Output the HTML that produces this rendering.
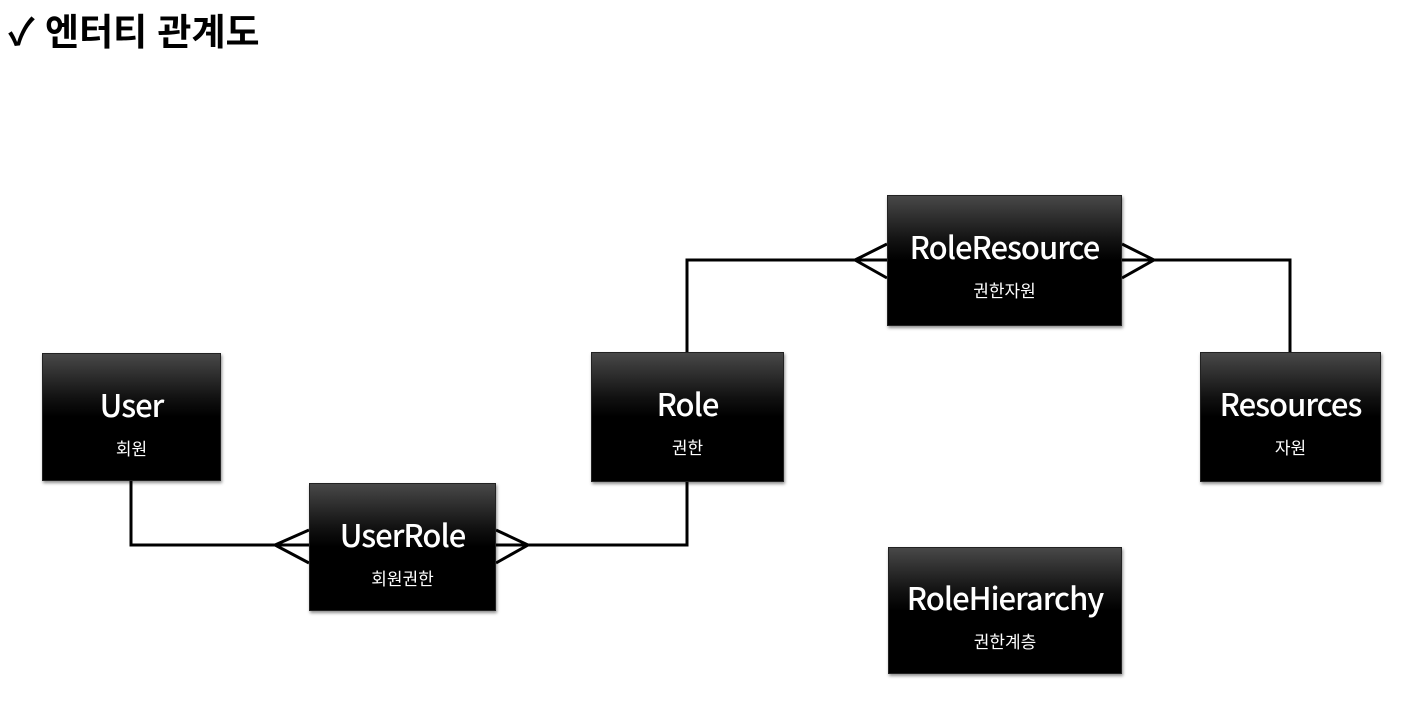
<!DOCTYPE html>
<html><head><meta charset="utf-8"><style>
body{margin:0;width:1416px;height:707px;background:#fff;position:relative;overflow:hidden;font-family:"Liberation Sans","Noto Sans CJK KR",sans-serif}
.t{position:absolute;left:8px;top:2px;font-size:37px;font-weight:bold;color:#000;letter-spacing:0px;white-space:nowrap}
.b{position:absolute;background:linear-gradient(#484848 0%,#111 35%,#000 50%,#000 100%);box-shadow:1px 2px 3px rgba(0,0,0,.45);color:#fff;text-align:center;box-sizing:border-box;border:1px solid #222}
.b .n{position:absolute;left:0;right:0;top:30px;font-size:31px;letter-spacing:-1px;font-family:"Noto Sans CJK KR","Liberation Sans",sans-serif;line-height:40px;font-weight:500}
.b .s{position:absolute;left:0;right:0;top:82px;font-size:17px;font-family:"Noto Sans CJK KR",sans-serif;line-height:24px}
svg{position:absolute;left:0;top:0}
</style></head><body>
<div class="t">✓ 엔터티 관계도</div>
<svg width="1416" height="707" fill="none" stroke="#000" stroke-width="3">
<polyline points="131,481 131,545 309,545"/>
<polyline points="309,530 275,545 309,563"/>
<polyline points="496,545 687,545 687,482"/>
<polyline points="496,530 528,545 496,563"/>
<polyline points="687,352 687,260 887,260"/>
<polyline points="887,244 855,260 887,278"/>
<polyline points="1122,260 1290,260 1290,352"/>
<polyline points="1122,244 1154,260 1122,278"/>
</svg>
<div class="b" style="left:42px;top:353px;width:179px;height:128px"><div class="n">User</div><div class="s">회원</div></div>
<div class="b" style="left:309px;top:483px;width:187px;height:128px"><div class="n">UserRole</div><div class="s">회원권한</div></div>
<div class="b" style="left:591px;top:352px;width:193px;height:130px"><div class="n">Role</div><div class="s">권한</div></div>
<div class="b" style="left:887px;top:195px;width:235px;height:131px"><div class="n" style="top:30px">RoleResource</div><div class="s" style="top:82px">권한자원</div></div>
<div class="b" style="left:1200px;top:352px;width:181px;height:130px"><div class="n">Resources</div><div class="s">자원</div></div>
<div class="b" style="left:888px;top:547px;width:234px;height:127px"><div class="n" style="top:29px">RoleHierarchy</div><div class="s" style="top:81px">권한계층</div></div>
</body></html>
